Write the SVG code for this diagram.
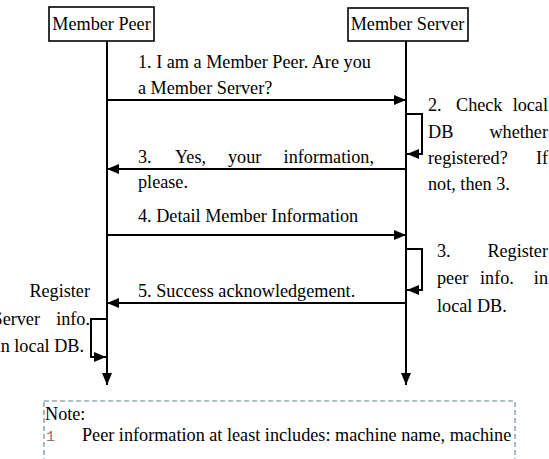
<svg xmlns="http://www.w3.org/2000/svg" width="549" height="459" viewBox="0 0 549 459" font-family="'Liberation Serif', 'DejaVu Serif', 'Times New Roman', serif">
<style>
text{font-family:'Liberation Serif','DejaVu Serif','Times New Roman',serif;font-size:18.2px;fill:#000}
.box{fill:#fff;stroke:#000;stroke-width:1.6}
.life{stroke:#000;stroke-width:2;fill:none}
.msg{stroke:#000;stroke-width:2;fill:none}
.end{text-anchor:end}
.mid{text-anchor:middle}
text.mono{font-family:'Liberation Mono','DejaVu Sans Mono',monospace;font-size:15px;fill:#777}
</style>
<defs>
<marker id="ah" viewBox="0 0 12 10" refX="12" refY="5" markerWidth="12" markerHeight="10" markerUnits="userSpaceOnUse" orient="auto">
<path d="M0,0 L12,5 L0,10 Z" fill="#000"/>
</marker>
</defs>
<rect width="549" height="459" fill="#fff"/>
<g id="peer">
<rect class="box" x="49" y="7" width="105" height="34"/>
<text class="mid" x="101.5" y="29.5">Member Peer</text>
</g>
<g id="server">
<rect class="box" x="348" y="8" width="120" height="33"/>
<text class="mid" x="407.5" y="30">Member Server</text>
</g>
<g id="connectors">
<line class="life" x1="107" y1="41" x2="107" y2="385" marker-end="url(#ah)"/>
<line class="life" x1="406" y1="41" x2="406" y2="385" marker-end="url(#ah)"/>
<line class="msg" x1="107" y1="100" x2="406" y2="100" marker-end="url(#ah)"/>
<polyline class="msg" points="406,114 422,114 422,154 407,154" marker-end="url(#ah)"/>
<line class="msg" x1="406" y1="169" x2="107" y2="169" marker-end="url(#ah)"/>
<line class="msg" x1="107" y1="235" x2="406" y2="235" marker-end="url(#ah)"/>
<polyline class="msg" points="406,249 422,249 422,290 407,290" marker-end="url(#ah)"/>
<line class="msg" x1="406" y1="303" x2="107" y2="303" marker-end="url(#ah)"/>
<polyline class="msg" points="107,319 91,319 91,357 106,357" marker-end="url(#ah)"/>
</g>
<g id="labels">
<text x="138" y="68">1. I am a Member Peer. Are you</text>
<text x="138" y="94">a Member Server?</text>
<text x="138" y="163">3.</text>
<text x="175" y="163">Yes,</text>
<text x="228" y="163">your</text>
<text class="end" x="374" y="163">information,</text>
<text x="138" y="188">please.</text>
<text x="138" y="222">4. Detail Member Information</text>
<text x="138" y="297">5. Success acknowledgement.</text>
</g>
<g id="note-check">
<text x="428" y="111">2.</text>
<text x="456" y="111">Check</text>
<text class="end" x="548" y="111">local</text>
<text x="428" y="138">DB</text>
<text class="end" x="548" y="138">whether</text>
<text x="428" y="164">registered?</text>
<text class="end" x="548" y="164">If</text>
<text x="428" y="190">not, then 3.</text>
</g>
<g id="note-register-peer">
<text x="437" y="257">3.</text>
<text class="end" x="548" y="257">Register</text>
<text x="437" y="284">peer</text>
<text x="480" y="284">info.</text>
<text class="end" x="548" y="284">in</text>
<text x="437" y="312">local DB.</text>
</g>
<g id="note-register-server">
<text class="end" x="90" y="297">Register</text>
<text class="end" x="40" y="325">Server</text>
<text class="end" x="90" y="325">info.</text>
<text class="end" x="84" y="352">in local DB.</text>
</g>
<g id="note">
<rect x="44" y="401" width="471" height="80" fill="none" stroke="#93aab3" stroke-width="1.6" stroke-dasharray="5,3"/>
<text x="45" y="420">Note:</text>
<text class="mono" x="46" y="441">1</text>
<text x="82" y="441">Peer information at least includes: machine name, machine</text>
</g>
</svg>
